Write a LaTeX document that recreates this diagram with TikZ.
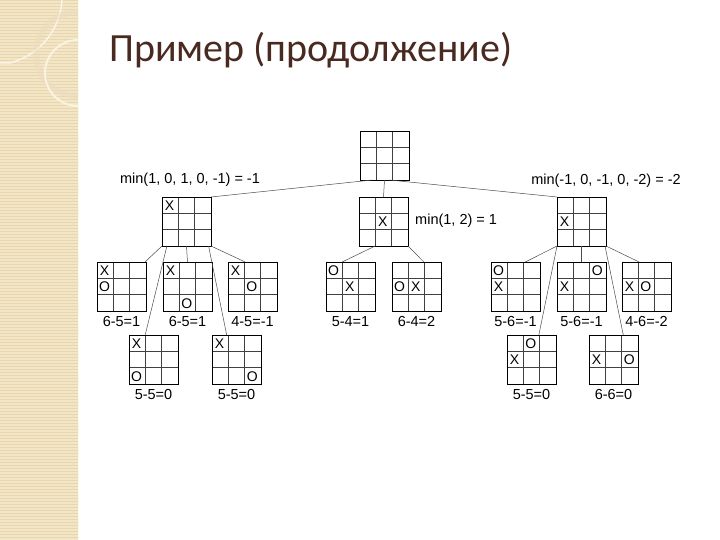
\documentclass[tikz,border=0pt]{standalone}
\usepackage{fontspec}
\setmainfont{Liberation Sans}
\newfontfamily\titlefont{Carlito}
\usetikzlibrary{calc}
\definecolor{beige}{HTML}{F3E6C6}
\definecolor{beigeline}{HTML}{E8D6AE}
\definecolor{titlecol}{HTML}{4A2A20}
\tikzset{
  board/.style={draw=none,minimum size=49pt,inner sep=0pt,outer sep=0pt},
  xomark/.style={font=\fontsize{14}{14}\selectfont,inner sep=0pt},
  lbl/.style={font=\fontsize{14.5}{14.5}\selectfont,inner sep=0pt},
  conn/.style={draw=black!70,line width=0.5pt},
}
\newcommand{\tttgrid}[4]{%
  \node[board,minimum size=#4pt] (#1) at (#2+#4/2,#3+#4/2) {};
  \draw[line width=0.5pt,black!75] ($(#1.north west)+(#4/3,0)$) -- ($(#1.south west)+(#4/3,0)$)
     ($(#1.north west)+(2*#4/3,0)$) -- ($(#1.south west)+(2*#4/3,0)$)
     ($(#1.north west)+(0,#4/3)$) -- ($(#1.north east)+(0,#4/3)$)
     ($(#1.north west)+(0,2*#4/3)$) -- ($(#1.north east)+(0,2*#4/3)$);
  \draw[line width=0.9pt] (#1.north west) rectangle (#1.south east);
}
\newcommand{\mk}[4]{\node[xomark] at ($(#1.north west)+(#3*16.4+7.5,#2*16.4+8.5)$) {#4};}
\begin{document}
\begin{tikzpicture}[x=1pt,y=-1pt]
\useasboundingbox (0,0) rectangle (720,540);
\fill[white] (0,0) rectangle (720,540);
\fill[beige] (0,0) rectangle (78,540);
\foreach \yy in {0,3,...,540} \draw[beigeline,line width=0.4pt] (0,\yy) -- (78,\yy);
\draw[white!70!beige,line width=1pt] (78,0) -- (78,540);
\draw[white!60!beige,line width=1.5pt] (0,63) -- (10,63) .. controls (40,55) and (60,30) .. (62,0);
\draw[beigeline!80!brown!60,line width=6pt,opacity=0.5] (78,96) arc (90:270:42);
\draw[white!50!beige,line width=2pt] (78,106) arc (90:270:33);
\node[anchor=base west,text=titlecol,font=\titlefont\fontsize{40}{40}\selectfont,inner sep=0pt] (title) at (109,62) {Пример (продолжение)};
\tttgrid{root}{360}{131}{49}
\tttgrid{a}{162}{197}{49}
\tttgrid{b}{359}{197}{49}
\tttgrid{c}{557}{197}{49}
\tttgrid{a1}{97}{262}{49}
\tttgrid{a2}{163}{262}{49}
\tttgrid{a3}{228}{262}{49}
\tttgrid{b1}{326}{262}{49}
\tttgrid{b2}{392}{262}{49}
\tttgrid{c1}{491}{262}{49}
\tttgrid{c2}{557}{262}{49}
\tttgrid{c3}{622}{262}{49}
\tttgrid{d1}{129}{335}{49}
\tttgrid{d2}{212}{335}{49}
\tttgrid{e1}{507}{335}{49}
\tttgrid{e2}{589}{335}{49}
\mk{a}{0}{0}{X}
\mk{b}{1}{1}{X}
\mk{c}{1}{0}{X}
\mk{a1}{0}{0}{X}\mk{a1}{1}{0}{O}
\mk{a2}{0}{0}{X}\mk{a2}{2}{1}{O}
\mk{a3}{0}{0}{X}\mk{a3}{1}{1}{O}
\mk{b1}{0}{0}{O}\mk{b1}{1}{1}{X}
\mk{b2}{1}{0}{O}\mk{b2}{1}{1}{X}
\mk{c1}{0}{0}{O}\mk{c1}{1}{0}{X}
\mk{c2}{0}{2}{O}\mk{c2}{1}{0}{X}
\mk{c3}{1}{0}{X}\mk{c3}{1}{1}{O}
\mk{d1}{0}{0}{X}\mk{d1}{2}{0}{O}
\mk{d2}{0}{0}{X}\mk{d2}{2}{2}{O}
\mk{e1}{0}{1}{O}\mk{e1}{1}{0}{X}
\mk{e2}{1}{0}{X}\mk{e2}{1}{2}{O}
\node[lbl] (la) at (190,180) {min(1, 0, 1, 0, -1) = -1};
\node[lbl] (lc) at (606,181) {min(-1, 0, -1, 0, -2) = -2};
\node[lbl,anchor=west] (lb) at (415,221) {min(1, 2) = 1};
\foreach \n/\t in {a1/6-5=1,a2/6-5=1,a3/4-5=-1,b1/5-4=1,b2/6-4=2,c1/5-6=-1,c2/5-6=-1,c3/4-6=-2}
  \node[lbl] at ($(\n.south)+(0,11)$) {\t};
\foreach \n/\t in {d1/5-5=0,d2/5-5=0,e1/5-5=0,e2/6-6=0}
  \node[lbl] at ($(\n.south)+(0,11)$) {\t};
\coordinate (rs) at ($(root.south west)!0.25!(root.south east)$);
\coordinate (rs2) at ($(root.south west)!0.6!(root.south east)$);
\draw[conn] (rs) -- (a.north east);
\draw[conn] (root.south) -- (b.north);
\draw[conn] (rs2) -- (c.north west);
\draw[conn] (a.south west) -- ($(a1.north east)+(-1,0)$);
\draw[conn] (a.south) -- (a2.north);
\draw[conn] (a.south east) -- ($(a3.north west)!0.35!(a3.north east)$);
\draw[conn] ($(a.south west)!0.1!(a.south east)$) -- ($(d1.north west)!0.33!(d1.north east)$);
\draw[conn] ($(a.south west)!0.95!(a.south east)$) -- ($(d2.north west)!0.3!(d2.north east)$);
\draw[conn] ($(b.south west)!0.33!(b.south east)$) -- ($(b1.north west)!0.33!(b1.north east)$);
\draw[conn] (b.south east) -- ($(b2.north west)!0.65!(b2.north east)$);
\draw[conn] (c.south west) -- ($(c1.north west)!0.7!(c1.north east)$);
\draw[conn] (c.south) -- (c2.north);
\draw[conn] (c.south east) -- ($(c3.north west)!0.35!(c3.north east)$);
\draw[conn] (c.south west) -- ($(e1.north west)!0.65!(e1.north east)$);
\draw[conn] ($(c.south west)!0.98!(c.south east)$) -- ($(e2.north west)!0.7!(e2.north east)$);
\end{tikzpicture}
\end{document}
